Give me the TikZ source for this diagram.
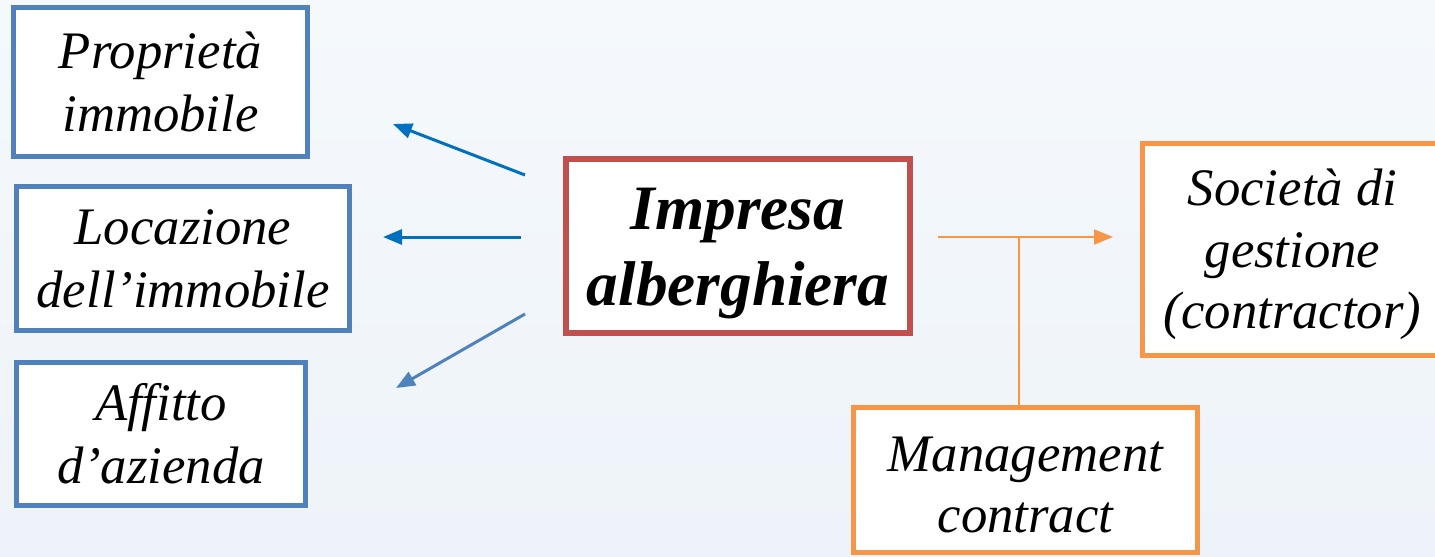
\documentclass[tikz,border=0pt]{standalone}
\usepackage{fontspec}
\setmainfont{Liberation Serif}
\usetikzlibrary{arrows.meta}
\definecolor{boxblue}{HTML}{4F81BD}
\definecolor{boxred}{HTML}{C0504D}
\definecolor{boxorange}{HTML}{F79646}
\definecolor{arrowblue}{HTML}{0070C0}
\definecolor{bgtop}{HTML}{F5F9FC}
\definecolor{bgbottom}{HTML}{EEF3F9}

\begin{document}
\begin{tikzpicture}[x=0.02cm, y=-0.02cm,
  box/.style={draw=#1, line width=3pt, fill=white, align=center, inner sep=0pt,
    font=\fontsize{30}{36}\selectfont\itshape},
  boxtext/.style={align=center, inner sep=0pt, font=\fontsize{30}{35}\selectfont\itshape},
  tip/.style={-{Triangle[length=0.38cm, width=0.3cm]}}]
\shade[top color=bgtop, bottom color=bgbottom] (0,0) rectangle (1435,556);
\useasboundingbox (0,0) rectangle (1435,556);
\node (proprieta) at (160.5, 82) [box=boxblue, minimum width=5.88cm, minimum height=2.98cm] {Propriet\`a\\immobile};
\node (locazione) at (183, 258.5) [box=boxblue, minimum width=6.66cm, minimum height=2.88cm] {Locazione\\dell’immobile};
\node (affitto) at (161, 434) [box=boxblue, minimum width=5.78cm, minimum height=2.86cm] {Affitto\\d’azienda};
\node (impresa) at (738, 246) [box=boxred, minimum width=6.88cm, minimum height=3.48cm,
  label={[boxtext, font=\fontsize{36}{43}\selectfont\bfseries\itshape, yshift=-0.15cm]center:Impresa\\alberghiera}] {};
\node (societa) at (1292.5, 249.5) [box=boxorange, minimum width=6cm, minimum height=4.24cm,
  label={[boxtext, yshift=-0.1cm]center:Societ\`a di\\gestione\\(contractor)}] {};
\node (management) at (1025.5, 480) [box=boxorange, minimum width=6.88cm, minimum height=2.9cm,
  label={[boxtext, yshift=-0.1cm]center:Management\\contract}] {};
\coordinate (s1) at (525, 175);
\coordinate (e1) at (393, 124);
\coordinate (s2) at (521, 237);
\coordinate (e2) at (383, 237);
\coordinate (s3) at (525, 314);
\coordinate (e3) at (396, 388);
\coordinate (s4) at (938, 237);
\coordinate (e4) at (1113, 237);
\coordinate (j) at (1019, 237);
\draw[tip, arrowblue, line width=1.7pt] (s1) -- (e1);
\draw[tip, arrowblue, line width=1.7pt] (s2) -- (e2);
\draw[tip, boxblue, line width=1.7pt] (s3) -- (e3);
\draw[tip, boxorange, line width=1.2pt] (s4) -- (e4);
\draw[boxorange, line width=1.2pt] (j) -- (j |- management.north);
\end{tikzpicture}
\end{document}
